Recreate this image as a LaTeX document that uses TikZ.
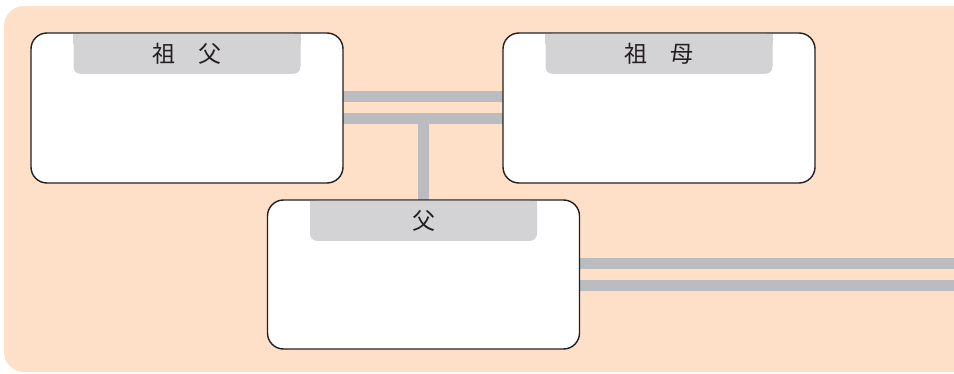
\documentclass[tikz,border=0pt]{standalone}
\usepackage{fontspec}
\newfontfamily\cjk{Noto Sans CJK JP}
\usepackage{tikz}
\usetikzlibrary{positioning,calc,backgrounds}

\definecolor{peach}{HTML}{FEE0C8}
\definecolor{tabgray}{HTML}{D3D3D5}
\definecolor{linkgray}{HTML}{BBBCC0}
\definecolor{ink}{HTML}{231F20}

\tikzset{
  person/.style={draw=ink, line width=1.4pt, fill=white, rounded corners=16pt,
    minimum width=312pt, minimum height=150pt, inner sep=0pt, outer sep=0pt},
  tab/.style={fill=tabgray, rounded corners=7pt, minimum width=227pt,
    minimum height=40pt, inner sep=0pt, anchor=north},
  tablabel/.style={text=ink, font=\cjk\fontsize{23}{23}\selectfont},
  link/.style={draw=linkgray, line width=11pt}
}

\begin{document}
\begin{tikzpicture}[x=1pt, y=-1pt]
    \useasboundingbox (0,0) rectangle (954,374);
    \clip (0,0) rectangle (954,374);

    % Family boxes
    \node[person] (gf) at (187,108) {};
    \node[person] (gm) at (659,108) {};
    \node[person, minimum height=149pt] (f) at (423.5,274.5) {};
    \coordinate (edge) at (970,274.5);

    % Title tabs
    \node[tab] (gftab) at ([yshift=-0.7pt]gf.north) {};
    \node[tab] (gmtab) at ([yshift=-0.7pt]gm.north) {};
    \node[tab] (ftab) at ([yshift=-0.7pt]f.north) {};
    \foreach \t in {gftab,gmtab,ftab}
        \fill[tabgray] (\t.north west) rectangle ([yshift=10pt]\t.east);
    \node[tablabel] at (gftab) {祖　父};
    \node[tablabel] at (gmtab) {祖　母};
    \node[tablabel] at (ftab) {父};

    \begin{scope}[on background layer]
        % Background panel
        \fill[peach, rounded corners=20pt] (4,6) rectangle (1000,372);
        % Connectors
        \draw[link] ([yshift=11pt]gf.east) -- ([yshift=11pt]gm.west);
        \draw[link] ([yshift=-11pt]gf.east) -- ([yshift=-11pt]gm.west);
        \draw[link] (f.north) |- ([yshift=-11pt]gf.east);
        \draw[link] ([yshift=11pt]f.east) -- ([yshift=11pt]f.east -| edge);
        \draw[link] ([yshift=-11pt]f.east) -- ([yshift=-11pt]f.east -| edge);
    \end{scope}
\end{tikzpicture}
\end{document}
